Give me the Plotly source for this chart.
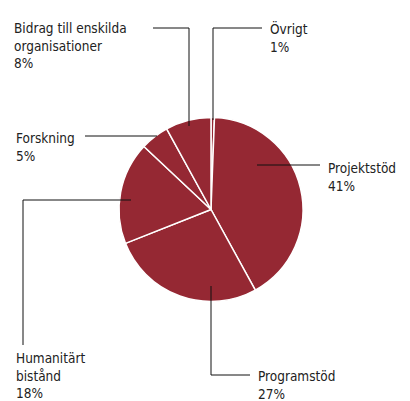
import plotly.graph_objects as go

W, H = 410, 401

# slices, clockwise from 12 o'clock
categories = ["Övrigt", "Projektstöd", "Programstöd", "Humanitärt bistånd",
              "Forskning", "Bidrag till enskilda organisationer"]
values = [0.6, 41.4, 27, 18, 5, 8]
label_texts = ["Övrigt<br>1%", "Projektstöd<br>41%", "Programstöd<br>27%",
               "Humanitärt<br>bistånd<br>18%", "Forskning<br>5%",
               "Bidrag till enskilda<br>organisationer<br>8%"]

RED = "#952833"

# pie geometry in pixels
cx, cy, r = 211, 209.5, 92


def px(x):
    return x / W


def py(y):
    return 1 - y / H


fig = go.Figure(go.Pie(
    labels=categories, values=values, sort=False, direction="clockwise",
    rotation=0, textinfo="none", hoverinfo="label+percent",
    marker=dict(colors=[RED] * len(values), line=dict(color="white", width=1.5)),
    domain=dict(x=[px(cx - r), px(cx + r)], y=[py(cy + r), py(cy - r)]),
    showlegend=False,
))

# label placement (top-left of text, pixels) and leader line paths
label_pos = [(268, 18), (326, 157.5), (256, 366), (14, 348), (14, 128), (12, 18)]
leaders = [
    [(213, 120), (213, 28), (262, 28)],
    [(257, 165), (320, 165)],
    [(211, 286), (211, 375), (250, 375)],
    [(131, 200), (23, 200), (23, 345)],
    [(85, 136), (157, 136)],
    [(153, 28), (189, 28), (189, 126)],
]

shapes = []
for path in leaders:
    d = "M " + " L ".join(f"{px(x)},{py(y)}" for x, y in path)
    shapes.append(dict(type="path", path=d, xref="paper", yref="paper",
                       line=dict(color="#111111", width=1)))

annotations = []
for txt, (x, y) in zip(label_texts, label_pos):
    annotations.append(dict(text=txt, x=px(x), y=py(y), xref="paper", yref="paper",
                            xanchor="left", yanchor="top", align="left",
                            showarrow=False,
                            font=dict(family="DejaVu Sans Condensed, Roboto", size=13.5,
                                      color="#222222")))

fig.update_layout(
    width=W, height=H, margin=dict(l=0, r=0, t=0, b=0),
    paper_bgcolor="white", plot_bgcolor="white",
    shapes=shapes, annotations=annotations,
)

fig.write_html("out.html", config={"displayModeBar": False},
               post_script="document.body.style.margin='0';")
